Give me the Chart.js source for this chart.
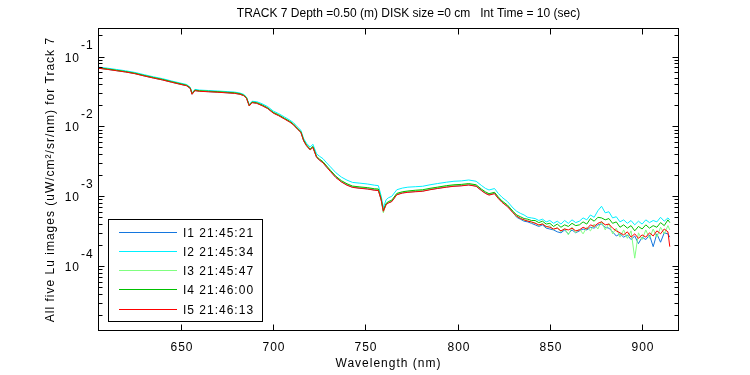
<!DOCTYPE html>
<html>
<head>
<meta charset="utf-8">
<script src="https://cdn.jsdelivr.net/npm/chart.js@4.4.0/dist/chart.umd.min.js"></script>
<style>
  body { margin: 0; background: #fff; }
  canvas { display: block; }
</style>
</head>
<body>
<canvas id="luChart" width="750" height="375"></canvas>
<script>
// wavelengths (nm), shared by all five scans
const wavelengths = [
  605, 610, 615, 620, 625, 630, 635, 640, 645, 650,
  653, 655, 656, 657.5, 660, 665, 670, 675, 679, 682,
  684, 685.5, 687, 688.5, 691, 694, 697, 700, 703, 706,
  709, 711, 713, 715, 716.5, 718, 720, 721.5, 723.5, 725,
  727, 729, 731, 734, 737, 740, 743, 747, 751, 755,
  757, 758.5, 759.7, 761.2, 762.4, 764.3, 767, 770, 773, 777,
  781, 785, 789, 794, 798, 802, 806, 810, 813, 815,
  817, 820, 822, 824, 827, 830,
  832, 834, 836, 838, 840, 842, 844, 846, 848, 850,
  852, 854, 856, 858, 860, 862, 864, 866, 868, 870,
  872, 874, 876, 878, 880, 882, 884, 886, 888, 890,
  892, 894, 896, 898, 900, 902, 904, 906, 908, 910,
  912, 914, 915
];

const luI1 = [
  6.82e-2, 6.57e-2, 6.28e-2, 6.02e-2, 5.70e-2, 5.29e-2, 4.94e-2, 4.63e-2, 4.29e-2, 3.99e-2,
  3.83e-2, 3.51e-2, 2.89e-2, 3.26e-2, 3.19e-2, 3.14e-2, 3.09e-2, 3.03e-2, 2.98e-2, 2.89e-2,
  2.76e-2, 2.54e-2, 1.97e-2, 2.20e-2, 2.15e-2, 1.99e-2, 1.81e-2, 1.56e-2, 1.43e-2, 1.29e-2,
  1.16e-2, 1.06e-2, 9.25e-3, 8.25e-3, 6.25e-3, 5.33e-3, 4.63e-3, 5.03e-3, 3.62e-3, 3.32e-3,
  3.02e-3, 2.62e-3, 2.28e-3, 1.86e-3, 1.61e-3, 1.45e-3, 1.35e-3, 1.31e-3, 1.28e-3, 1.23e-3,
  1.22e-3, 8.95e-4, 6.1e-4, 7.65e-4, 8.05e-4, 8.45e-4, 1.06e-3, 1.12e-3, 1.15e-3, 1.17e-3,
  1.19e-3, 1.25e-3, 1.30e-3, 1.36e-3, 1.40e-3, 1.42e-3, 1.46e-3, 1.40e-3, 1.21e-3, 1.11e-3,
  1.05e-3, 1.10e-3, 9.4e-4, 8.3e-4, 7.2e-4, 5.9e-4,
  5.0e-4, 4.7e-4, 4.4e-4, 4.3e-4, 4.1e-4, 3.9e-4, 3.7e-4, 3.9e-4, 3.5e-4, 3.4e-4,
  3.3e-4, 3.1e-4, 3.0e-4, 3.3e-4, 2.9e-4, 3.3e-4, 3.0e-4, 3.2e-4, 3.4e-4, 3.3e-4,
  3.6e-4, 3.5e-4, 3.9e-4, 4.0e-4, 3.6e-4, 3.5e-4, 3.1e-4, 2.7e-4, 2.9e-4, 2.6e-4,
  2.8e-4, 2.4e-4, 2.7e-4, 2.1e-4, 2.6e-4, 2.4e-4, 2.8e-4, 1.9e-4, 2.9e-4, 2.2e-4,
  3.0e-4, 2.9e-4, 2.6e-4
];

const luI2 = [
  7.05e-2, 6.82e-2, 6.53e-2, 6.25e-2, 5.92e-2, 5.50e-2, 5.13e-2, 4.82e-2, 4.46e-2, 4.15e-2,
  3.98e-2, 3.64e-2, 3.00e-2, 3.39e-2, 3.31e-2, 3.26e-2, 3.21e-2, 3.15e-2, 3.10e-2, 3.00e-2,
  2.87e-2, 2.64e-2, 2.05e-2, 2.29e-2, 2.26e-2, 2.11e-2, 1.92e-2, 1.66e-2, 1.52e-2, 1.37e-2,
  1.23e-2, 1.13e-2, 9.9e-3, 8.8e-3, 6.7e-3, 5.75e-3, 5.05e-3, 5.55e-3, 4.05e-3, 3.75e-3,
  3.45e-3, 3.0e-3, 2.64e-3, 2.17e-3, 1.88e-3, 1.70e-3, 1.58e-3, 1.54e-3, 1.50e-3, 1.44e-3,
  1.42e-3, 1.02e-3, 6.9e-4, 8.9e-4, 9.5e-4, 1.0e-3, 1.24e-3, 1.31e-3, 1.35e-3, 1.37e-3,
  1.39e-3, 1.46e-3, 1.52e-3, 1.59e-3, 1.64e-3, 1.66e-3, 1.71e-3, 1.64e-3, 1.42e-3, 1.30e-3,
  1.23e-3, 1.29e-3, 1.10e-3, 9.7e-4, 8.4e-4, 6.8e-4,
  6.1e-4, 5.7e-4, 5.4e-4, 5.0e-4, 4.9e-4, 4.8e-4, 4.5e-4, 4.7e-4, 4.3e-4, 4.5e-4,
  4.1e-4, 4.4e-4, 4.0e-4, 4.5e-4, 4.1e-4, 4.6e-4, 4.2e-4, 4.4e-4, 4.9e-4, 4.6e-4,
  5.4e-4, 5.0e-4, 6.2e-4, 7.2e-4, 5.8e-4, 6.0e-4, 4.9e-4, 5.1e-4, 4.3e-4, 4.6e-4,
  4.1e-4, 4.5e-4, 3.9e-4, 4.4e-4, 4.0e-4, 4.6e-4, 4.2e-4, 4.5e-4, 4.3e-4, 5.0e-4,
  4.4e-4, 4.9e-4, 4.6e-4
];

const luI3 = [
  6.85e-2, 6.60e-2, 6.33e-2, 6.05e-2, 5.73e-2, 5.32e-2, 4.97e-2, 4.66e-2, 4.32e-2, 4.02e-2,
  3.86e-2, 3.54e-2, 2.91e-2, 3.28e-2, 3.21e-2, 3.16e-2, 3.11e-2, 3.05e-2, 3.00e-2, 2.91e-2,
  2.78e-2, 2.56e-2, 1.98e-2, 2.21e-2, 2.16e-2, 2.00e-2, 1.82e-2, 1.57e-2, 1.44e-2, 1.30e-2,
  1.17e-2, 1.07e-2, 9.3e-3, 8.3e-3, 6.3e-3, 5.38e-3, 4.68e-3, 5.08e-3, 3.67e-3, 3.37e-3,
  3.07e-3, 2.66e-3, 2.32e-3, 1.90e-3, 1.64e-3, 1.48e-3, 1.38e-3, 1.34e-3, 1.31e-3, 1.26e-3,
  1.25e-3, 9.1e-4, 5.8e-4, 7.8e-4, 8.2e-4, 8.6e-4, 1.08e-3, 1.14e-3, 1.17e-3, 1.19e-3,
  1.21e-3, 1.27e-3, 1.33e-3, 1.39e-3, 1.43e-3, 1.45e-3, 1.49e-3, 1.43e-3, 1.24e-3, 1.13e-3,
  1.07e-3, 1.12e-3, 9.6e-4, 8.4e-4, 7.3e-4, 6.0e-4,
  5.1e-4, 4.9e-4, 4.5e-4, 4.5e-4, 4.2e-4, 4.2e-4, 3.8e-4, 4.1e-4, 3.6e-4, 3.8e-4,
  3.3e-4, 3.6e-4, 3.1e-4, 3.5e-4, 2.8e-4, 3.6e-4, 3.0e-4, 3.4e-4, 2.9e-4, 3.6e-4,
  3.2e-4, 4.0e-4, 3.4e-4, 4.4e-4, 3.3e-4, 4.1e-4, 2.9e-4, 3.5e-4, 2.6e-4, 3.3e-4,
  2.5e-4, 3.2e-4, 1.3e-4, 3.0e-4, 2.4e-4, 3.3e-4, 2.5e-4, 3.4e-4, 2.6e-4, 3.6e-4,
  2.9e-4, 3.8e-4, 3.3e-4
];

const luI4 = [
  6.90e-2, 6.66e-2, 6.38e-2, 6.10e-2, 5.78e-2, 5.37e-2, 5.02e-2, 4.71e-2, 4.36e-2, 4.06e-2,
  3.89e-2, 3.57e-2, 2.94e-2, 3.31e-2, 3.24e-2, 3.19e-2, 3.14e-2, 3.08e-2, 3.03e-2, 2.94e-2,
  2.80e-2, 2.58e-2, 2.00e-2, 2.23e-2, 2.19e-2, 2.03e-2, 1.84e-2, 1.59e-2, 1.46e-2, 1.31e-2,
  1.18e-2, 1.08e-2, 9.45e-3, 8.42e-3, 6.38e-3, 5.45e-3, 4.74e-3, 5.16e-3, 3.72e-3, 3.42e-3,
  3.12e-3, 2.71e-3, 2.36e-3, 1.93e-3, 1.67e-3, 1.51e-3, 1.40e-3, 1.36e-3, 1.33e-3, 1.28e-3,
  1.27e-3, 9.3e-4, 6.3e-4, 7.9e-4, 8.4e-4, 8.8e-4, 1.10e-3, 1.16e-3, 1.19e-3, 1.22e-3,
  1.24e-3, 1.30e-3, 1.35e-3, 1.42e-3, 1.46e-3, 1.48e-3, 1.52e-3, 1.46e-3, 1.26e-3, 1.16e-3,
  1.09e-3, 1.14e-3, 9.8e-4, 8.6e-4, 7.5e-4, 6.1e-4,
  5.4e-4, 5.1e-4, 4.8e-4, 4.7e-4, 4.5e-4, 4.5e-4, 4.2e-4, 4.4e-4, 4.0e-4, 4.1e-4,
  3.7e-4, 4.0e-4, 3.6e-4, 3.9e-4, 3.7e-4, 4.1e-4, 3.8e-4, 3.9e-4, 4.3e-4, 4.0e-4,
  4.8e-4, 4.4e-4, 5.0e-4, 4.9e-4, 4.6e-4, 4.8e-4, 4.1e-4, 4.3e-4, 3.6e-4, 3.9e-4,
  3.5e-4, 3.8e-4, 3.2e-4, 3.7e-4, 3.4e-4, 3.9e-4, 3.5e-4, 3.8e-4, 3.6e-4, 4.2e-4,
  3.8e-4, 4.6e-4, 4.2e-4
];

const luI5 = [
  6.80e-2, 6.55e-2, 6.27e-2, 6.00e-2, 5.68e-2, 5.27e-2, 4.92e-2, 4.62e-2, 4.28e-2, 3.98e-2,
  3.82e-2, 3.50e-2, 2.88e-2, 3.25e-2, 3.18e-2, 3.13e-2, 3.08e-2, 3.02e-2, 2.97e-2, 2.88e-2,
  2.75e-2, 2.53e-2, 1.96e-2, 2.19e-2, 2.14e-2, 1.98e-2, 1.80e-2, 1.55e-2, 1.42e-2, 1.28e-2,
  1.15e-2, 1.05e-2, 9.2e-3, 8.2e-3, 6.2e-3, 5.3e-3, 4.6e-3, 5.0e-3, 3.6e-3, 3.3e-3,
  3.0e-3, 2.6e-3, 2.26e-3, 1.85e-3, 1.60e-3, 1.44e-3, 1.34e-3, 1.30e-3, 1.27e-3, 1.22e-3,
  1.21e-3, 8.9e-4, 6.1e-4, 7.6e-4, 8.0e-4, 8.4e-4, 1.05e-3, 1.11e-3, 1.14e-3, 1.16e-3,
  1.18e-3, 1.24e-3, 1.29e-3, 1.35e-3, 1.39e-3, 1.41e-3, 1.45e-3, 1.39e-3, 1.20e-3, 1.10e-3,
  1.04e-3, 1.09e-3, 9.3e-4, 8.2e-4, 7.1e-4, 5.8e-4,
  5.2e-4, 4.8e-4, 4.6e-4, 4.4e-4, 4.3e-4, 4.1e-4, 3.9e-4, 4.0e-4, 3.7e-4, 3.6e-4,
  3.4e-4, 3.5e-4, 3.2e-4, 3.4e-4, 3.3e-4, 3.5e-4, 3.2e-4, 3.3e-4, 3.6e-4, 3.4e-4,
  3.9e-4, 3.7e-4, 4.1e-4, 4.3e-4, 3.9e-4, 4.0e-4, 3.5e-4, 3.2e-4, 3.0e-4, 2.8e-4,
  3.1e-4, 2.6e-4, 2.9e-4, 2.5e-4, 2.8e-4, 2.6e-4, 3.0e-4, 2.7e-4, 3.2e-4, 2.9e-4,
  3.4e-4, 3.1e-4, 1.9e-4
];

const seriesNames = ['I1 21:45:21', 'I2 21:45:34', 'I3 21:45:47', 'I4 21:46:00', 'I5 21:46:13'];
const seriesColors = ['#1476de', '#00f0ff', '#80ff80', '#00c000', '#ff0000'];
const seriesValues = [luI1, luI2, luI3, luI4, luI5];

const xTicks = [650, 700, 750, 800, 850, 900];
const yTickValues = [1e-1, 1e-2, 1e-3, 1e-4];
const yTickExponents = ['-1', '-2', '-3', '-4'];

const titleText = 'TRACK 7 Depth =0.50 (m) DISK size =0 cm   Int Time = 10 (sec)';
const xTitle = 'Wavelength (nm)';
const yTitle = 'All five Lu images (uW/cm\u00b2/sr/nm) for Track 7';

const FONT = '12px "Liberation Sans", Arial, sans-serif';

// MATLAB-ish box, inward ticks, labels and legend, all placed from the chart scales
const matlabAxes = {
  id: 'matlabAxes',
  afterDatasetsDraw(chart) {
    const { ctx, chartArea: a, scales: { x, y } } = chart;
    ctx.save();
    ctx.strokeStyle = '#000';
    ctx.fillStyle = '#000';
    ctx.lineWidth = 1;
    ctx.font = FONT;
    ctx.letterSpacing = '1px';

    const seg = (x1, y1, x2, y2) => {
      ctx.beginPath(); ctx.moveTo(x1, y1); ctx.lineTo(x2, y2); ctx.stroke();
    };

    const L = a.left + 0.5, R = a.right - 0.5, T = a.top + 0.5, B = a.bottom - 0.5;
    ctx.strokeRect(L, T, R - L, B - T);

    // x ticks
    ctx.textAlign = 'center';
    ctx.textBaseline = 'alphabetic';
    xTicks.forEach(v => {
      const px = Math.round(x.getPixelForValue(v)) + 0.5;
      seg(px, B, px, B - 6);
      seg(px, T, px, T + 6);
      ctx.fillText(String(v), px + 0.5, a.bottom + 20);
    });

    // y ticks (log decades + minor)
    for (let e = -5; e <= 0; e++) {
      for (let m = 1; m <= 9; m++) {
        const v = m * Math.pow(10, e);
        if (v < y.min || v > y.max) continue;
        const py = Math.round(y.getPixelForValue(v)) + 0.5;
        const len = m === 1 ? 6 : 4;
        seg(L, py, L + len, py);
        seg(R, py, R - len, py);
      }
    }
    yTickValues.forEach((v, i) => {
      const py = y.getPixelForValue(v);
      ctx.textAlign = 'right';
      ctx.fillText('10', a.left - 18, py + 5);
      ctx.textAlign = 'left';
      ctx.fillText(yTickExponents[i], a.left - 17, py - 8);
    });

    // titles
    const cx = (a.left + a.right) / 2;
    ctx.textAlign = 'center';
    ctx.fillText(xTitle, cx, a.bottom + 36);
    ctx.letterSpacing = '0px';
    ctx.fillText(titleText, cx + 20, a.top - 11);
    ctx.letterSpacing = '1px';

    ctx.save();
    ctx.translate(54, (a.top + a.bottom) / 2);
    ctx.rotate(-Math.PI / 2);
    ctx.fillText(yTitle, 0, 0);
    ctx.restore();

    // legend box
    const lx = a.left + 10.5, ly = 219.5, lw = 154, lh = 102;
    ctx.fillStyle = '#fff';
    ctx.fillRect(lx, ly, lw, lh);
    ctx.strokeRect(lx, ly, lw, lh);
    ctx.textAlign = 'left';
    seriesNames.forEach((name, i) => {
      const ry = Math.round(231.7 + i * 19.25) + 0.5;
      ctx.strokeStyle = seriesColors[i];
      seg(lx + 10.5, ry, lx + 68.5, ry);
      ctx.fillStyle = '#000';
      ctx.fillText(name, lx + 74.5, ry + 4.5);
    });
    ctx.restore();
  }
};

// later scans sit on top, like the original plot order
const datasets = seriesValues.map((vals, i) => ({
  label: seriesNames[i],
  data: wavelengths.map((w, k) => ({ x: w, y: vals[k] })),
  borderColor: seriesColors[i],
  borderWidth: 1,
  pointRadius: 0,
  tension: 0,
  fill: false
})).reverse();

new Chart(document.getElementById('luChart'), {
  type: 'line',
  data: { datasets },
  options: {
    responsive: false,
    animation: false,
    events: [],
    layout: { padding: { left: 98, right: 71, top: 28, bottom: 44 } },
    plugins: { legend: { display: false }, tooltip: { enabled: false } },
    scales: {
      x: { type: 'linear', min: 605, max: 920, display: false },
      y: { type: 'logarithmic', min: 1.18e-5, max: 0.256, display: false }
    }
  },
  plugins: [matlabAxes]
});
</script>
</body>
</html>
